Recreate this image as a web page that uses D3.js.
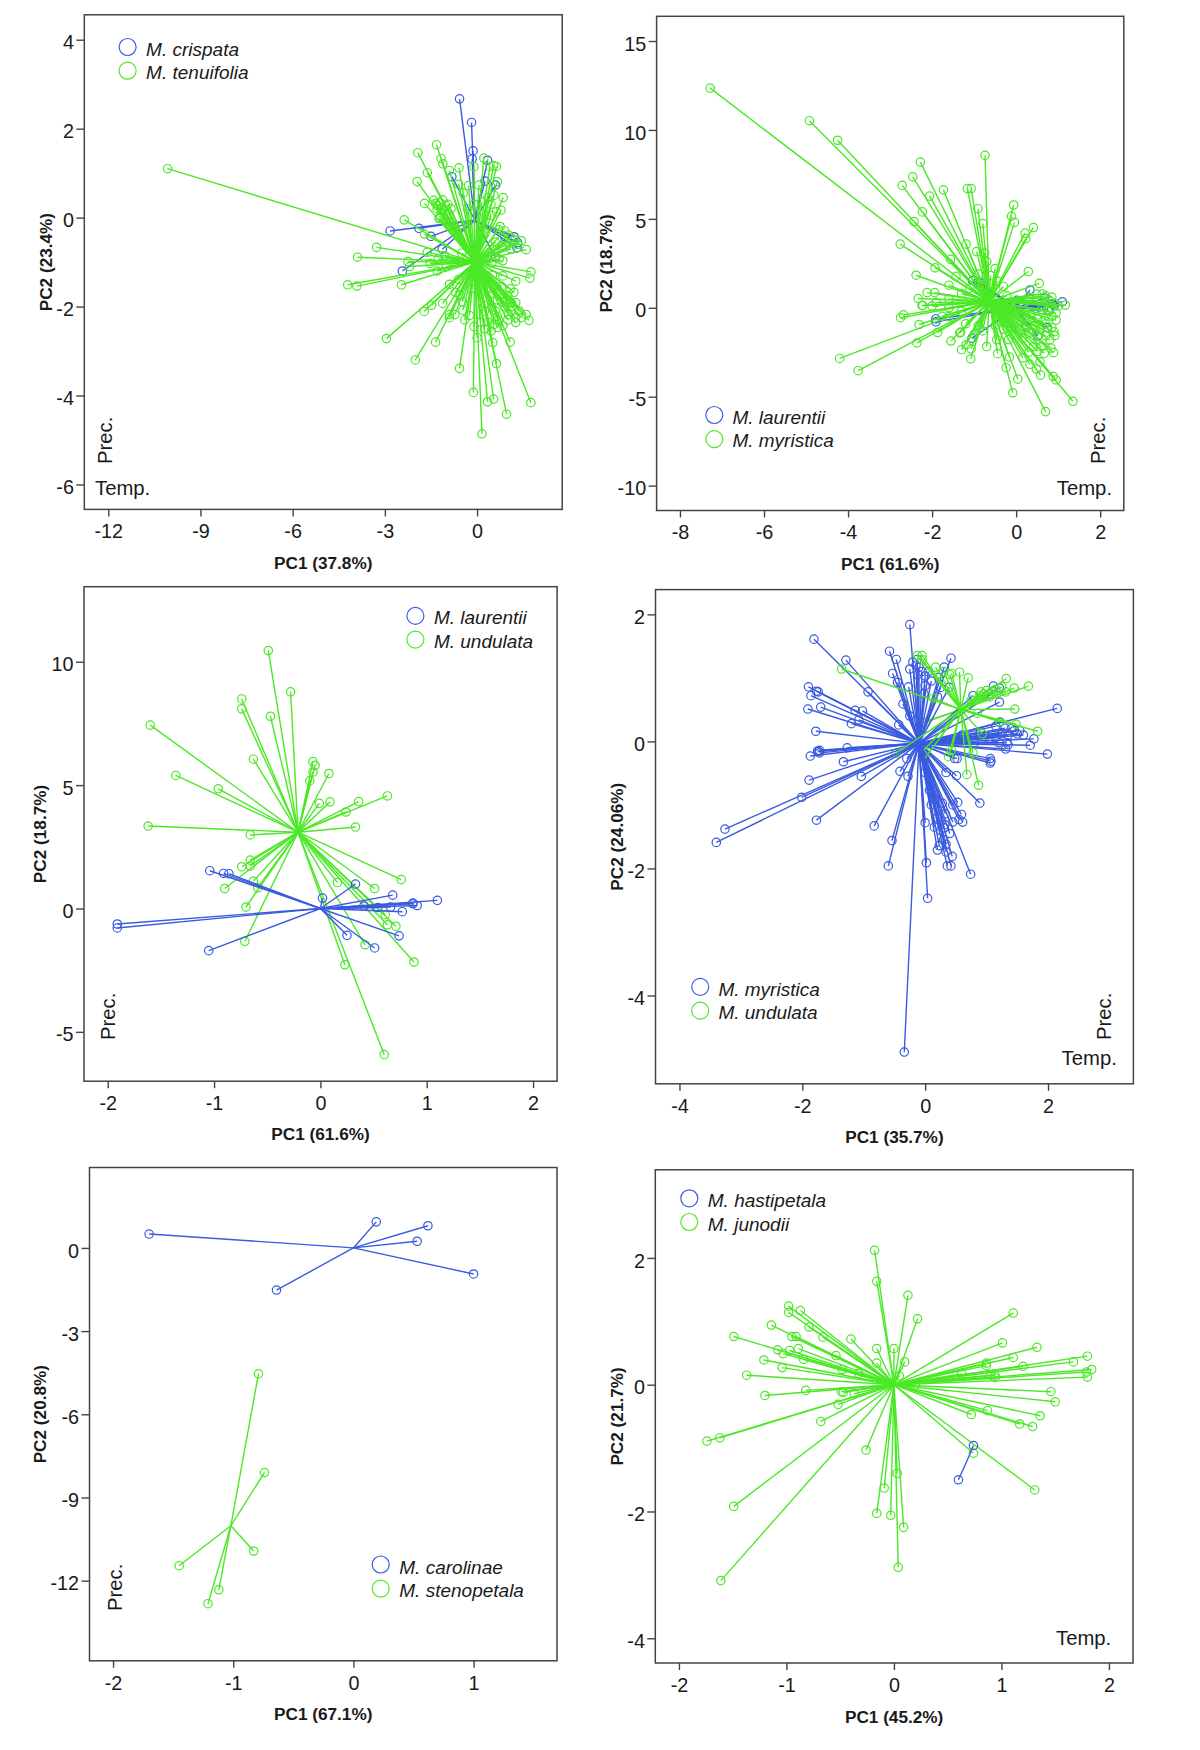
<!DOCTYPE html>
<html><head><meta charset="utf-8">
<script src="https://cdn.jsdelivr.net/npm/d3@7/dist/d3.min.js"></script>
<style>html,body{margin:0;padding:0;background:#fff}svg{display:block}text{font-family:"Liberation Sans",Arial,sans-serif;fill:#1a1a1a}</style>
</head><body><svg id="c" width="1200" height="1750"></svg>
<script>
// ---------- data: [PC1, PC2] per sample, plus group centroids ----------
const crispata=[[-.57,2.67],[-.18,2.14],[-.13,1.5],[-.16,1.32],[.34,1.29],[-.82,.92],[.26,.82],[-2.83,-.3],[-1.89,-.24],[-1.5,-.42],[-1.13,-.71],[-2.43,-1.2],[1.2,-.43],[1.32,-.56],[1.3,-.68],[.6,-.89],[.9,-.43],[.6,.73]];
const crispataC=[-.07,-.06];
const tenuifolia=[[-10.07,1.1],[-1.32,1.64],[-1.93,1.46],[-1.17,1.33],[-1.11,1.21],[-1.62,1.01],[-1.95,.81],[-.9,1.06],[-.59,1.12],[-.28,.72],[-.1,1.14],[.06,.73],[.22,1.34],[.54,1.17],[.63,1.15],[.42,1.15],[.66,.81],[.85,.45],[.78,.17],[.63,.13],[.46,.05],[-1.71,.32],[-1.42,.39],[-1.12,.4],[-1.29,.27],[-1.02,.27],[-1.17,.11],[-1.24,-.02],[-.9,-.1],[-2.37,-.05],[-1.71,-.37],[-3.27,-.67],[-3.89,-.89],[-1.62,-.78],[-2.25,-.99],[-2.19,-1.1],[-1.53,-1.03],[-1.26,-.93],[-4.21,-1.51],[-3.91,-1.54],[-2.46,-1.51],[-.6,-1.39],[-.7,-1.68],[-1.48,-1.97],[-1.12,-1.93],[-1.72,-2.11],[-.9,-2.18],[-.9,-2.25],[-.72,-2.18],[-.48,-1.89],[-.46,-2.08],[-2.95,-2.72],[-1.35,-2.8],[-2.01,-3.2],[-.57,-3.39],[-.12,-3.93],[.34,-4.14],[.54,-4.08],[.96,-4.42],[1.75,-4.16],[.16,-4.86],[.63,-3.28],[.51,-2.81],[1.08,-2.8],[0,-2.7],[.12,-2.35],[.46,-2.55],[.66,-2.47],[.84,-2.43],[.66,-2.22],[1.02,-2.18],[1.24,-2.26],[1.26,-2.36],[1.44,-2.25],[1.69,-2.31],[1.6,-2.18],[1.38,-2.1],[1.26,-1.91],[1.2,-1.68],[1.08,-1.6],[1.26,-1.43],[.84,-1.31],[1.75,-1.22],[1.72,-1.36],[.84,-.97],[1.6,-.72],[1.44,-.52],[1.02,-.39],[.69,-.27],[1.32,-.6],[.48,-1.02],[.72,-.93],[.36,-1.6],[.66,-1.85],[.48,-2.01],[.24,-2.1],[.6,-2.1],[.96,-1.85],
[-1.35,.32],[-1.3,.2],[-1.2,.33],[-1.15,.2],[-1.05,.15],[-1,.05],[-1.2,0],[-.95,.3],[-.85,.2],[-.6,.75],[-.45,.55],[-.3,.2],[-.1,.3],[.15,.35],[.35,.45],[.45,.3],[.55,.5],[.3,.05],[.75,-.2],[.9,-.3],[1.1,-.45],[1.2,-.5],[.95,-.55],[.8,-.65],[1.1,-.7],[.6,-.55],[.5,-1.3],[.8,-1.55],[.7,-1.65],[1,-1.75],[1.1,-1.9],[.9,-2],[.7,-2.3],[.55,-2.4],[.35,-2.35],[.3,-1.8],[1.1,-2.1],[1,-2.3],[.25,-2.5],[1.15,-2],[.8,-1.9],[.5,-1.7],[-.2,-1.6],[-.4,-2.3],[-.25,-2.2],[-.1,-2.45],[-.9,-1.5],[-.55,-1.75],[-1.05,-.85],[-1,-1.1],[-.7,-1],[-.5,-.8],[-1.3,-1.2]];
const tenuifoliaC=[-.07,-1];
const laurentii=[[-1.04,1.53],[-.91,1.42],[-.86,1.41],[-1.91,-.63],[-1.91,-.79],[-1.05,-1.71],[.02,.42],[.33,.99],[.68,.54],[.87,.22],[.87,.19],[.91,.12],[1.1,.33],[.66,.06],[.77,-.13],[.74,-1.11],[.51,-1.6],[.25,-1.09],[.41,.1],[.54,.04]];
const laurentiiC=[0,0];
const myristicaA=[[-7.28,12.35],[-4.92,10.52],[-4.25,9.42],[-2.28,8.19],[-.74,8.57],[-2.46,7.36],[-2.71,6.88],[-1.73,6.63],[-2.06,6.28],[-1.16,6.7],[-1.07,6.7],[-.06,5.78],[-.91,5.57],[-2.23,5.39],[-.11,5.14],[-2.43,4.85],[-.04,4.8],[-.79,4.74],[.41,4.51],[.21,4.2],[.23,3.89],[-2.76,3.58],[-1.19,3.58],[-.94,3.16],[-.75,3.08],[-1.56,2.72],[-1.93,2.25],[.29,2.04],[-2.38,1.83],[-1.43,1.77],[-1.6,1.27],[-.61,1.81],[.55,1.37],[-2.12,.85],[-1.94,.85],[-2.33,.52],[-2.24,.12],[-2.22,.13],[-2.68,-.4],[-2.75,-.56],[-2.31,-.94],[-1.76,-.48],[-1.87,-1.39],[-2.36,-1.98],[-4.2,-2.85],[-3.76,-3.54],[-1.55,-1.87],[-1.32,-1.37],[-1.34,-1.41],[-1.3,-2.35],[-1.07,-2.31],[-1.19,-2.08],[-1.08,-2.87],[-.7,-2.18],[-.46,-1.79],[-.44,-2.58],[-.16,-2.77],[-.18,-1.79],[-.24,-3.37],[.04,-4.01],[-.08,-4.78],[.16,-2.81],[.33,-3.18],[.48,-3.45],[.58,-3.79],[.57,-3.04],[.41,-2.2],[.51,-2.45],[.67,-2.56],[.88,-3.85],[.95,-4.06],[1.35,-5.26],[.7,-5.84],[.83,-2.27],[.89,-2.52],[.92,-1.56],[.7,-1.58],[.95,-.69],[.85,-.48],[.7,.67],[1.17,.15],[.79,.42],[.62,.77],[.92,.25],[.48,.77],[.75,-.17],[.62,-.79],[.22,-1],[.57,-1.21],[-.22,.67],
[.3,.6],[.5,.4],[.7,.3],[.85,.6],[1,.1],[.6,-.1],[.35,-.4],[.8,-.2],[.95,-.3],[.5,-.6],[.7,-.9],[.85,-1.1],[.9,-1.35],[.45,-1],[.3,-1.4],[.15,-1.7],[.55,-1.5],[.8,-1.8],[.3,-2.5],[.6,-2.2],[-.5,2.2],[-.9,1.9],[-.7,2.6],[-.45,1.5],[-.3,1.2],[-1.1,1.1],[-.8,1.2],[-1.3,.8],[-1.6,.5],[-1.9,.3],[-2,.1],[-1.6,0],[-1.3,-.2],[-1.6,-.5],[-1.2,-.9],[-.9,-1],[-1,-1.5],[-.8,-1.3],[-.5,-1],[-.3,-1.2],[-.1,-1.1]];
const myristicaAC=[-.64,.35];
const undulataA=[[-.49,10.45],[-.28,8.78],[-.74,8.49],[-.74,8.09],[-.47,7.79],[-1.6,7.43],[-.63,6.05],[-1.36,5.39],[-.96,4.85],[-.07,5.95],[-.05,5.8],[-.07,5.53],[-.1,5.17],[.08,5.47],[.63,4.56],[.36,4.33],[.24,3.91],[.09,4.32],[-.01,4.26],[.33,3.3],[-1.62,3.34],[-.66,2.98],[-.66,1.96],[-.74,1.69],[-.66,1.72],[-.63,1.11],[-.9,.81],[-.59,.84],[-.7,.06],[-.71,-1.33],[.76,1.17],[.51,.81],[.16,1.05],[.61,-.25],[.63,-.66],[.71,-.72],[.88,-2.17],[.42,-1.47],[.23,-2.28],[.6,-5.92]];
const undulataAC=[-.21,3.09];
const myristicaB=[[-.25,1.84],[-1.81,1.61],[-.58,1.42],[-.47,1.29],[-1.29,1.28],[.42,1.31],[-.13,1.29],[-.25,1.14],[-.1,1.17],[.31,1.17],[-.53,1.07],[0,1.03],[.22,1.01],[-.45,.93],[0,.88],[-.27,.86],[.39,.85],[-1.9,.86],[-1.77,.79],[-1.74,.78],[-1.86,.72],[-.93,.78],[.78,.72],[1.11,.87],[1.21,.84],[1.21,.62],[-.36,.59],[-1.7,.54],[-1.91,.51],[-1.14,.49],[-1.02,.48],[-1.08,.34],[-1.2,.28],[-.43,.26],[-.25,.4],[2.15,.52],[-1.78,.16],[1.21,.3],[1.54,.17],[1.45,.17],[1.3,.21],[1.15,.24],[1.77,.04],[1.33,-.02],[1.71,-.06],[1.31,-.12],[1.99,-.2],[1.15,.06],[.97,.07],[-1.27,-.1],[-1.72,-.14],[-1.74,-.16],[-1.87,-.23],[-1.33,-.32],[.52,-.27],[.48,-.27],[1.06,-.27],[1.07,-.31],[1.06,-.34],[-.3,-.27],[-.41,-.47],[-.28,-.55],[0,-.49],[.34,-.49],[.51,-.54],[-1.04,-.55],[-1.89,-.61],[-2.01,-.88],[.07,-.77],[.53,-.96],[.89,-.97],[.28,-.97],[.33,-1.14],[.59,-1.15],[.55,-1.23],[.61,-1.27],[.45,-1.27],[-1.77,-1.24],[-3.26,-1.38],[-3.4,-1.59],[-.83,-1.33],[0,-1.28],[.32,-1.31],[.31,-1.36],[-.54,-1.56],[.23,-1.64],[.2,-1.71],[.34,-1.62],[.34,-1.74],[.44,-1.81],[.02,-1.91],[-.6,-1.96],[.36,-1.96],[.42,-1.96],[.74,-2.09],[.04,-2.47],[-.34,-4.89],
[-.15,1.2],[-.05,1.1],[.05,1.1],[-.12,1.05],[-.2,1.25],[.1,.95],[.25,.85],[.2,.7],[-.02,.75],[1.4,.2],[1.25,.12],[1.2,-.02],[1.35,-.05],[1.05,.05],[.9,.15],[.8,-.02],[1.5,.12],[1.6,.1],[1.35,.1],[.6,.1],[-1.75,-.15],[-1.72,-.18],[.15,-1.35],[.25,-1.4],[.3,-1.55],[.1,-1],[.2,-1.2],[.4,-1.45],[.15,-.9],[.45,-1]];
const myristicaBC=[-.1,-.03];
const undulataB=[[-1.36,1.14],[-.13,1.35],[-.05,1.35],[-.05,1.29],[.17,1.17],[.43,1.07],[.56,1.09],[1.32,.99],[1.68,.87],[1.45,.84],[1.31,.78],[.91,.78],[.88,.72],[1.09,.79],[1.46,.51],[1.48,.27],[1.83,.16],[1.22,.31],[.93,.12],[.78,-.18],[.68,-.52],[.87,-.69],[.38,-.24],[.43,-.14],[.13,.68],[.85,.44],[1,.8],[.95,.75],[1.15,.82],[1.25,.86],[.75,.65],[1.05,.7],[.7,1],[.4,1.05],[.3,1.1]];
const undulataBhidden=[[0,.3],[-.05,.3]];
const undulataBends=[[-.48,-.19],[-.02,-.14],[0,-.26]];
const undulataBC=[.58,.5];
const carolinae=[[-1.7,.5],[.19,.94],[.62,.8],[.53,.24],[1,-.94],[-.64,-1.52]];
const carolinaeC=[0,0];
const stenopetala=[[-.79,-4.54],[-.74,-8.1],[-.83,-10.93],[-1.45,-11.46],[-1.12,-12.33],[-1.21,-12.83]];
const stenopetalaC=[-1.02,-10.02];
const hastipetala=[[.74,-.96],[.6,-1.5]];
const hastipetalaC=[.68,-1.2];
const junodii=[[-.18,2.12],[-.16,1.63],[.13,1.41],[.22,1.04],[1.11,1.13],[-.98,1.24],[-.98,1.14],[-.87,1.17],[-.79,.91],[-1.14,.94],[-1.49,.76],[-.95,.76],[-.91,.76],[-.66,.75],[-.4,.72],[-.16,.57],[0,.57],[.1,.36],[-.16,.34],[-1.08,.55],[-1.03,.49],[-.97,.54],[-.89,.57],[-.54,.46],[-.84,.4],[-1.21,.39],[-1.04,.27],[-.48,.24],[-.33,.18],[-1.37,.15],[-1.2,-.17],[-.82,-.09],[-.49,-.11],[-.47,-.12],[-.37,-.14],[-.52,-.31],[-.68,-.58],[-1.62,-.84],[-1.74,-.89],[-1.49,-1.92],[-1.61,-3.09],[-.26,-1.03],[-.09,-1.63],[.03,-1.4],[-.16,-2.03],[-.03,-2.06],[.09,-2.25],[.04,-2.88],[.74,-1.08],[1.31,-1.66],[.72,-.47],[.87,-.41],[1.17,-.62],[1.29,-.66],[1.36,-.49],[1.5,-.27],[1.46,-.11],[.2,-.01],[.05,.14],[.63,.17],[.86,.34],[.86,.3],[.9,.15],[.94,.15],[.94,.11],[1.01,.66],[1.11,.43],[1.2,.29],[1.33,.59],[1.67,.36],[1.8,.45],[1.79,.2],[1.84,.24],[1.8,.12]];
const junodiiC=[0,0];

// ---------- tick labels, axis titles, legend names ----------
const ticksX1=[-12,-9,-6,-3,0], ticksY1=[-6,-4,-2,0,2,4];
const ticksX2=[-8,-6,-4,-2,0,2], ticksY2=[-10,-5,0,5,10,15];
const ticksX3=[-2,-1,0,1,2], ticksY3=[-5,0,5,10];
const ticksX4=[-4,-2,0,2], ticksY4=[-4,-2,0,2];
const ticksX5=[-2,-1,0,1], ticksY5=[-12,-9,-6,-3,0];
const ticksX6=[-2,-1,0,1,2], ticksY6=[-4,-2,0,2];

const BLUE="#3a5be0", GREEN="#4be826", FRAME="#444";

const panels=[
 {f:[84.3,14.8,562.2,509.4], xd:[-12.78,2.77], yd:[4.56,-6.56], tx:ticksX1, ty:ticksY1, xt:"PC1 (37.8%)", yt:"PC2 (23.4%)", ytx:51.5, xtb:568.5,
  layers:[[crispata,crispataC,BLUE],[tenuifolia,tenuifoliaC,GREEN]],
  leg:{x:127.6,tx:146.1,y:[47,70.7],b:[55.5,79.2],n:["M. crispata","M. tenuifolia"],c:[BLUE,GREEN]},
  prec:[111.7,464], temp:[95,494.9]},
 {f:[656.6,16.3,1123.8,510.5], xd:[-8.556,2.562], yd:[16.39,-11.4], tx:ticksX2, ty:ticksY2, xt:"PC1 (61.6%)", yt:"PC2 (18.7%)", ytx:612.4, xtb:569.6,
  layers:[[laurentii,laurentiiC,BLUE],[myristicaA,myristicaAC,GREEN]],
  leg:{x:714.3,tx:732.4,y:[415,439.1],b:[423.5,447.2],n:["M. laurentii","M. myristica"],c:[BLUE,GREEN]},
  prec:[1105.3,464], temp:[1056.8,494.9]},
 {f:[84,586.7,557.1,1081.2], xd:[-2.223,2.226], yd:[13.04,-7], tx:ticksX3, ty:ticksY3, xt:"PC1 (61.6%)", yt:"PC2 (18.7%)", ytx:46.3, xtb:1140,
  layers:[[undulataA,undulataAC,GREEN],[laurentii,laurentiiC,BLUE]],
  leg:{x:415.4,tx:433.9,y:[615.9,639.6],b:[624.4,648.1],n:["M. laurentii","M. undulata"],c:[BLUE,GREEN]},
  prec:[115,1040]},
 {f:[655.5,589.6,1133.4,1083.8], xd:[-4.39,3.39], yd:[2.39,-5.39], tx:ticksX4, ty:ticksY4, xt:"PC1 (35.7%)", yt:"PC2 (24.06%)", ytx:623, xtb:1143,
  layers:[[undulataBhidden.concat(undulataBends),undulataBC,GREEN],[myristicaB,myristicaBC,BLUE],[undulataB,undulataBC,GREEN],[undulataBends,undulataBC,GREEN,true]],
  leg:{x:700.2,tx:718.4,y:[986.9,1010.6],b:[995.8,1019.1],n:["M. myristica","M. undulata"],c:[BLUE,GREEN]},
  prec:[1110.5,1040], temp:[1061.6,1064.9]},
 {f:[89.5,1167.5,557,1660.8], xd:[-2.196,1.694], yd:[2.9,-14.89], tx:ticksX5, ty:ticksY5, xt:"PC1 (67.1%)", yt:"PC2 (20.8%)", ytx:46.3, xtb:1720.2,
  layers:[[carolinae,carolinaeC,BLUE],[stenopetala,stenopetalaC,GREEN]],
  leg:{x:380.7,tx:399.3,y:[1564.5,1588.6],b:[1573.5,1597.2],n:["M. carolinae","M. stenopetala"],c:[BLUE,GREEN]},
  prec:[121.5,1611]},
 {f:[655.3,1169.8,1133,1663], xd:[-2.22,2.224], yd:[3.39,-4.39], tx:ticksX6, ty:ticksY6, xt:"PC1 (45.2%)", yt:"PC2 (21.7%)", ytx:623, xtb:1722.8,
  layers:[[junodii,junodiiC,GREEN],[hastipetala,hastipetalaC,BLUE]],
  leg:{x:689.3,tx:707.8,y:[1198.3,1222],b:[1207,1231],n:["M. hastipetala","M. junodii"],c:[BLUE,GREEN]},
  temp:[1056,1645]}
];

const svg=d3.select("#c");
panels.forEach(p=>{
  const [x0,y0,x1,y1]=p.f;
  const x=d3.scaleLinear().domain(p.xd).range([x0,x1]);
  const y=d3.scaleLinear().domain(p.yd).range([y0,y1]);
  const g=svg.append("g");

  p.layers.forEach(([pts,c,col,noDots])=>{
    const l=g.append("g");
    l.selectAll("line").data(pts).join("line")
      .attr("x1",x(c[0])).attr("y1",y(c[1]))
      .attr("x2",d=>x(d[0])).attr("y2",d=>y(d[1]))
      .attr("stroke",col).attr("stroke-width",1.4);
    if(!noDots) l.selectAll("circle").data(pts).join("circle")
      .attr("cx",d=>x(d[0])).attr("cy",d=>y(d[1])).attr("r",4.2)
      .attr("fill","none").attr("stroke",col).attr("stroke-width",1.2);
  });

  g.append("rect").attr("x",x0).attr("y",y0).attr("width",x1-x0).attr("height",y1-y0)
    .attr("fill","none").attr("stroke",FRAME).attr("stroke-width",1.5);

  const ax=g.append("g").attr("transform",`translate(0,${y1})`)
    .call(d3.axisBottom(x).tickValues(p.tx).tickSize(7).tickPadding(7.7).tickFormat(d3.format("d")));
  const ay=g.append("g").attr("transform",`translate(${x0},0)`)
    .call(d3.axisLeft(y).tickValues(p.ty).tickSize(8).tickPadding(2.4).tickFormat(d3.format("d")));
  [ax,ay].forEach(a=>{
    a.select(".domain").remove();
    a.selectAll(".tick line").attr("stroke",FRAME).attr("stroke-width",1.4);
    a.selectAll("text").attr("font-size",19.8).style("font-family",'"Liberation Sans",Arial,sans-serif').attr("fill","#1a1a1a");
    a.selectAll("text").text(function(){return this.textContent.replace("\u2212","-");});
  });
  ay.selectAll("text").attr("dy","0.46em");

  g.append("text").attr("x",(x0+x1)/2).attr("y",p.xtb).attr("text-anchor","middle")
    .attr("font-size",17.2).attr("font-weight","bold").text(p.xt);
  g.append("text").attr("transform",`translate(${p.ytx},${(y0+y1)/2}) rotate(-90)`).attr("text-anchor","middle")
    .attr("font-size",17.2).attr("font-weight","bold").text(p.yt);

  p.leg.n.forEach((n,i)=>{
    g.append("circle").attr("cx",p.leg.x).attr("cy",p.leg.y[i]).attr("r",8.5)
      .attr("fill","none").attr("stroke",p.leg.c[i]).attr("stroke-width",1.2);
    g.append("text").attr("x",p.leg.tx).attr("y",p.leg.b[i]).attr("font-size",19)
      .attr("font-style","italic").text(n);
  });

  if(p.prec) g.append("text").attr("transform",`translate(${p.prec[0]},${p.prec[1]}) rotate(-90)`).attr("font-size",20.3).text("Prec.");
  if(p.temp) g.append("text").attr("x",p.temp[0]).attr("y",p.temp[1]).attr("font-size",20.3).text("Temp.");
});
</script></body></html>
